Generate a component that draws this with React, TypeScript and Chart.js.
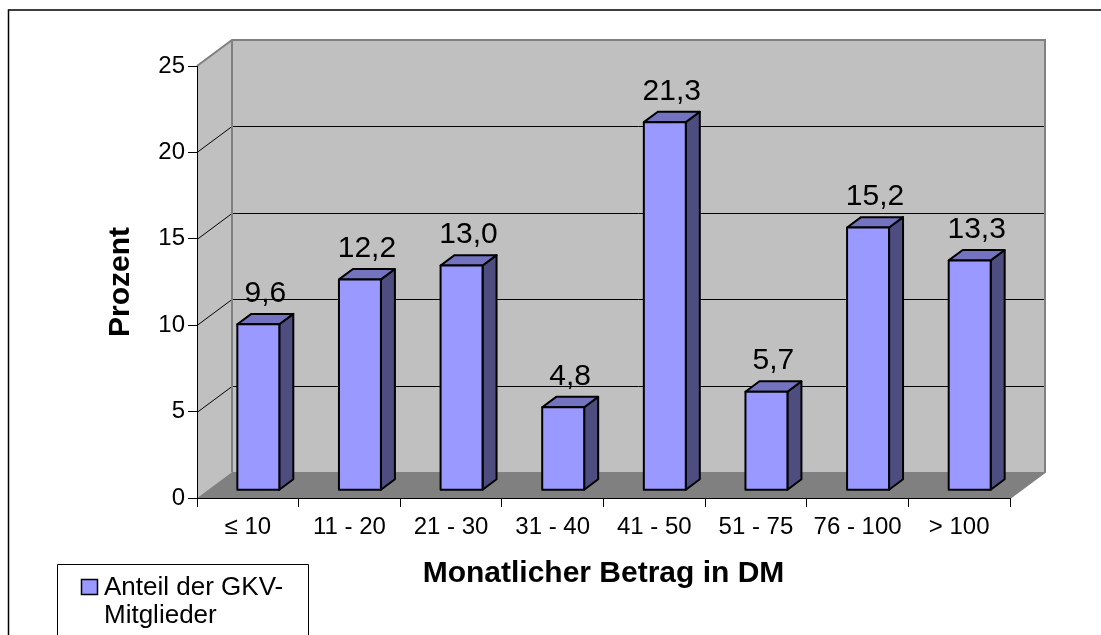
import React, { useEffect, useRef } from "react";
import { Chart, registerables } from "chart.js";

Chart.register(...registerables);

const categories = ["≤ 10", "11 - 20", "21 - 30", "31 - 40", "41 - 50", "51 - 75", "76 - 100", "> 100"];
const shares = [9.6, 12.2, 13.0, 4.8, 21.3, 5.7, 15.2, 13.3];
const yTicks = [0, 5, 10, 15, 20, 25];
const seriesName = "Anteil der GKV-Mitglieder";
const legendLines = ["Anteil der GKV-", "Mitglieder"];
const xTitle = "Monatlicher Betrag in DM";
const yTitle = "Prozent";

const FONT = "'Liberation Sans', Arial, sans-serif";
const DX = 35;
const DY = -26;
const BAR_FRONT = 0.3;
const BAR_DEPTH = 0.4;
const FRONT_COLOR = "#9999ff";
const TOP_COLOR = "#7373bf";
const SIDE_COLOR = "#4d4d80";

const fmt = (v: number) => v.toFixed(1).replace(".", ",");

const threeD = {
  id: "threeD",
  beforeDraw(chart: any) {
    const ctx = chart.ctx as CanvasRenderingContext2D;
    const { left, right } = chart.chartArea;
    const ys = chart.scales.y;
    const top = ys.getPixelForValue(yTicks[yTicks.length - 1]);
    const bottom = ys.getPixelForValue(yTicks[0]);
    ctx.save();
    ctx.fillStyle = "#ffffff";
    ctx.fillRect(0, 0, chart.width, chart.height);
    // outer frame
    ctx.strokeStyle = "#000";
    ctx.lineWidth = 1.5;
    ctx.strokeRect(8.5, 10, chart.width + 50, chart.height + 50);

    // left wall
    ctx.fillStyle = "#c0c0c0";
    ctx.beginPath();
    ctx.moveTo(left, bottom);
    ctx.lineTo(left, top);
    ctx.lineTo(left + DX, top + DY);
    ctx.lineTo(left + DX, bottom + DY);
    ctx.closePath();
    ctx.fill();
    // back wall
    ctx.beginPath();
    ctx.moveTo(left + DX, top + DY);
    ctx.lineTo(right + DX, top + DY);
    ctx.lineTo(right + DX, bottom + DY);
    ctx.lineTo(left + DX, bottom + DY);
    ctx.closePath();
    ctx.fill();
    // floor
    ctx.fillStyle = "#808080";
    ctx.beginPath();
    ctx.moveTo(left, bottom);
    ctx.lineTo(right, bottom);
    ctx.lineTo(right + DX, bottom + DY);
    ctx.lineTo(left + DX, bottom + DY);
    ctx.closePath();
    ctx.fill();

    // grid lines
    ctx.strokeStyle = "#000";
    ctx.lineWidth = 1;
    for (let i = 1; i < yTicks.length - 1; i++) {
      const yy = Math.round(ys.getPixelForValue(yTicks[i])) + 0.5;
      ctx.beginPath();
      ctx.moveTo(left, yy);
      ctx.lineTo(left + DX, yy + DY);
      ctx.lineTo(right + DX, yy + DY);
      ctx.stroke();
    }

    // wall edges
    ctx.strokeStyle = "#808080";
    ctx.lineWidth = 2;
    ctx.beginPath();
    ctx.moveTo(left, top);
    ctx.lineTo(left + DX, top + DY);
    ctx.lineTo(right + DX, top + DY);
    ctx.lineTo(right + DX, bottom + DY);
    ctx.lineTo(right, bottom);
    ctx.moveTo(left + DX, top + DY);
    ctx.lineTo(left + DX, bottom + DY);
    ctx.stroke();
    ctx.restore();
  },
  afterDatasetsDraw(chart: any) {
    const ctx = chart.ctx as CanvasRenderingContext2D;
    const meta = chart.getDatasetMeta(0);
    const ox = DX * BAR_FRONT;
    const oy = DY * BAR_FRONT;
    const bdx = DX * BAR_DEPTH;
    const bdy = DY * BAR_DEPTH;
    ctx.save();
    ctx.lineWidth = 2;
    ctx.lineJoin = "round";
    ctx.strokeStyle = "#000";
    meta.data.forEach((el: any, i: number) => {
      const p = el.getProps(["x", "y", "base", "width"], true);
      const x0 = p.x - p.width / 2 + ox;
      const x1 = p.x + p.width / 2 + ox;
      const yt = p.y + oy;
      const yb = p.base + oy;
      // side
      ctx.fillStyle = SIDE_COLOR;
      ctx.beginPath();
      ctx.moveTo(x1, yt);
      ctx.lineTo(x1 + bdx, yt + bdy);
      ctx.lineTo(x1 + bdx, yb + bdy);
      ctx.lineTo(x1, yb);
      ctx.closePath();
      ctx.fill();
      ctx.stroke();
      // top
      ctx.fillStyle = TOP_COLOR;
      ctx.beginPath();
      ctx.moveTo(x0, yt);
      ctx.lineTo(x1, yt);
      ctx.lineTo(x1 + bdx, yt + bdy);
      ctx.lineTo(x0 + bdx, yt + bdy);
      ctx.closePath();
      ctx.fill();
      ctx.stroke();
      // front
      ctx.fillStyle = FRONT_COLOR;
      ctx.beginPath();
      ctx.rect(x0, yt, x1 - x0, yb - yt);
      ctx.fill();
      ctx.stroke();
      // label
      ctx.fillStyle = "#000";
      ctx.font = `30px ${FONT}`;
      ctx.textAlign = "center";
      ctx.textBaseline = "alphabetic";
      ctx.fillText(fmt(shares[i]), (x0 + x1) / 2 + bdx / 2, yt + bdy - 12);
    });
    ctx.restore();
  },
  afterDraw(chart: any) {
    const ctx = chart.ctx as CanvasRenderingContext2D;
    ctx.save();
    // legend box
    ctx.strokeStyle = "#000";
    ctx.lineWidth = 1;
    ctx.fillStyle = "#fff";
    ctx.beginPath();
    ctx.rect(57.5, 564.5, 251, 120);
    ctx.fill();
    ctx.stroke();
    ctx.fillStyle = FRONT_COLOR;
    ctx.lineWidth = 1.5;
    ctx.beginPath();
    ctx.rect(81.5, 579.5, 16, 15);
    ctx.fill();
    ctx.stroke();
    ctx.fillStyle = "#000";
    ctx.font = `26px ${FONT}`;
    ctx.textAlign = "left";
    ctx.textBaseline = "alphabetic";
    legendLines.forEach((line, i) => ctx.fillText(line, 104, 595 + i * 28));
    ctx.restore();
  },
};

export default function App() {
  const ref = useRef<HTMLCanvasElement | null>(null);
  useEffect(() => {
    if (!ref.current) return;
    Chart.defaults.font.family = FONT;
    const chart = new Chart(ref.current, {
      type: "bar",
      data: {
        labels: categories,
        datasets: [
          {
            label: seriesName,
            data: shares,
            backgroundColor: "rgba(0,0,0,0)",
            borderWidth: 0,
            categoryPercentage: 1,
            barPercentage: 0.413,
          },
        ],
      },
      options: {
        animation: false,
        responsive: false,
        devicePixelRatio: 1,
        layout: { padding: { top: 66, right: 91, left: 0, bottom: 0 } },
        plugins: {
          legend: { display: false },
          tooltip: { enabled: false },
          title: { display: false },
        },
        scales: {
          x: {
            type: "category",
            offset: true,
            grid: { offset: true, drawOnChartArea: false, drawTicks: true, tickLength: 9, color: "#000", lineWidth: 1 },
            border: { display: true, color: "#000", width: 1 },
            ticks: { color: "#000", font: { family: FONT, size: 24 }, padding: 6, maxRotation: 0, autoSkip: false },
            title: {
              display: true,
              text: xTitle,
              color: "#000",
              font: { family: FONT, size: 30, weight: "bold" },
              padding: { top: 0, bottom: 43 },
            },
            afterFit: (s: any) => {
              s.height = 137;
            },
          } as any,
          y: {
            min: 0,
            max: 25,
            afterBuildTicks: (s: any) => {
              s.ticks = yTicks.map((v) => ({ value: v }));
            },
            grid: { drawOnChartArea: false, drawTicks: true, tickLength: 9, color: "#000", lineWidth: 1 },
            border: { display: true, color: "#000", width: 1 },
            ticks: { color: "#000", font: { family: FONT, size: 24 }, padding: 3 },
            title: {
              display: true,
              text: yTitle,
              color: "#000",
              font: { family: FONT, size: 30, weight: "bold" },
              padding: { top: 103, bottom: 0 },
            },
            afterFit: (s: any) => {
              s.width = 197;
            },
          } as any,
        },
      },
      plugins: [threeD],
    });
    return () => chart.destroy();
  }, []);
  return (
    <div style={{ position: "absolute", left: 0, top: 0, width: 1101, height: 635, overflow: "hidden" }}>
      <canvas ref={ref} width={1101} height={635} style={{ display: "block" }} />
    </div>
  );
}
